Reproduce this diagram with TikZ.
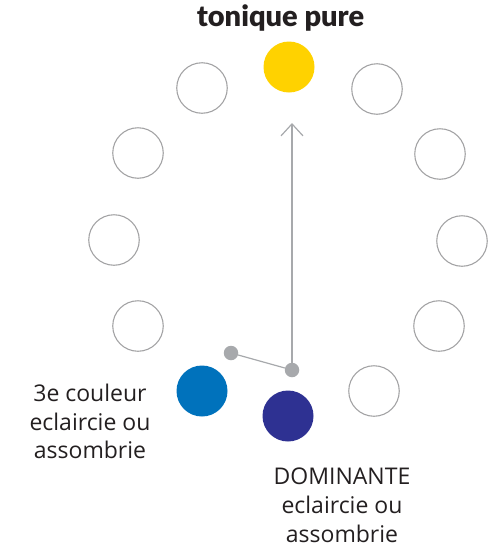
\documentclass[tikz,border=0pt]{standalone}
\usepackage{fontspec}
\setmainfont{Open Sans}
\newfontfamily\titlefont{Lato Black}
\usetikzlibrary{arrows.meta}

\definecolor{ringgray}{HTML}{A3A3A5}
\definecolor{dotgray}{HTML}{A7A9AC}
\definecolor{toniqueyellow}{HTML}{FFD200}
\definecolor{thirdblue}{HTML}{0072BC}
\definecolor{dominantblue}{HTML}{2E3192}
\definecolor{textblack}{HTML}{231F20}

\tikzset{
  ring/.style={circle, draw=ringgray, line width=1.1pt, minimum size=50.5pt, inner sep=0pt},
  tone/.style={circle, fill=#1, minimum size=51pt, inner sep=0pt},
  pivot/.style={circle, fill=dotgray, minimum size=14.5pt, inner sep=0pt},
  label/.style={align=center, inner sep=0pt, text=textblack, font=\fontsize{23}{28.8}\selectfont}
}

\begin{document}
\begin{tikzpicture}[x=1pt, y=-1pt]
\useasboundingbox (0,0) rectangle (488,544);

% Colour wheel
\node[tone=toniqueyellow] (c12) at (289,67) {};
\node[ring] (c1) at (377,89) {};
\node[ring] (c2) at (440,154) {};
\node[ring] (c3) at (462,241) {};
\node[ring] (c4) at (439,326) {};
\node[ring] (c5) at (374,391) {};
\node[tone=dominantblue] (c6) at (288,416) {};
\node[tone=thirdblue] (c7) at (202,391) {};
\node[ring] (c8) at (138,326) {};
\node[ring] (c9) at (114,240) {};
\node[ring] (c10) at (138,153) {};
\node[ring] (c11) at (202,88) {};

% Pointer
\node[pivot] (p1) at (231,353) {};
\node[pivot] (p2) at (292,370) {};
\coordinate (tip) at (292,123);

\draw[dotgray, line width=1.2pt] (p1) -- (p2);
\draw[dotgray, line width=1.2pt, -{Straight Barb[length=12pt, width=22pt]}] (p2) -- (tip);

% Labels
\node[anchor=base, text=textblack, font=\titlefont\fontsize{29}{31}\selectfont] (title) at (280.5,26.7) {tonique pure};
\node[label] (third) at (90,421.5) {3e couleur\\eclaircie ou\\assombrie};
\node[label] (dominant) at (342,505.5) {DOMINANTE\\eclaircie ou\\assombrie};

\end{tikzpicture}
\end{document}
